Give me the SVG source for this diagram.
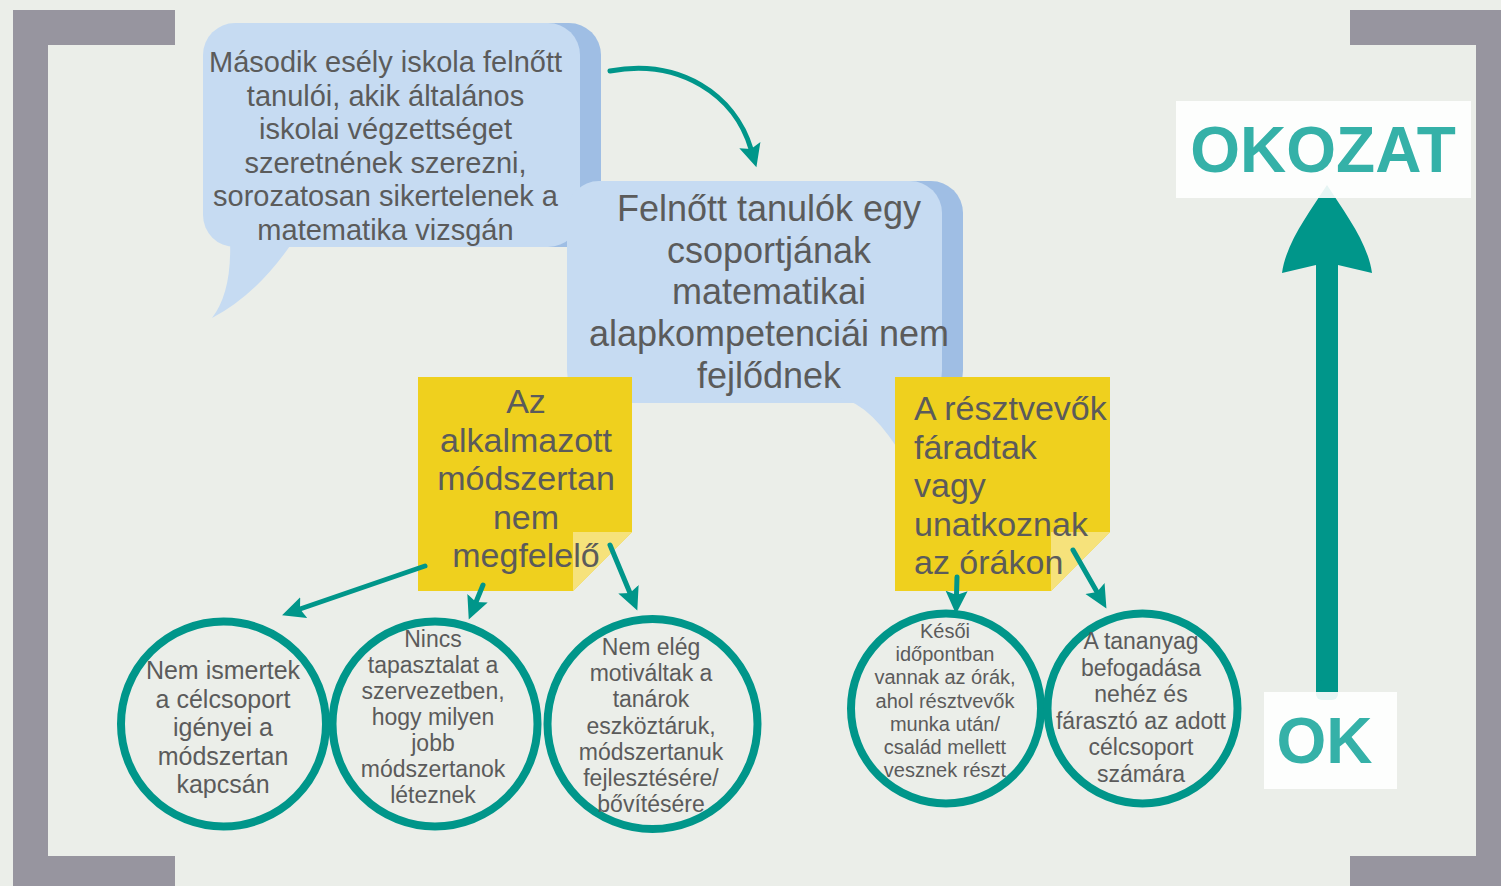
<svg xmlns="http://www.w3.org/2000/svg" width="1501" height="886" viewBox="0 0 1501 886">
<defs>
<style>
.t{font-family:"Liberation Sans",Arial,sans-serif;fill:#5b5b5b;text-anchor:middle}
.tl{font-family:"Liberation Sans",Arial,sans-serif;fill:#5b5b5b;text-anchor:start}
.big{font-family:"Liberation Sans",Arial,sans-serif;font-weight:bold;fill:#35b1a8;text-anchor:middle;font-size:64px}
.bub{fill:#c6dbf2}
.bsh{fill:#9fbee4}
.note{fill:#efd01e}
.fold{fill:#f6e27b}
.ring{fill:none;stroke:#00968a;stroke-width:8}
.con{fill:none;stroke:#00968a;stroke-width:5;stroke-linecap:round}
.brk{fill:#97959f}
</style>
<marker id="ah" markerUnits="userSpaceOnUse" markerWidth="24" markerHeight="24" viewBox="0 0 24 24" refX="4" refY="12" orient="auto">
<path d="M0,1 L23,12 L0,23 L4,12 Z" fill="#00968a"/>
</marker>
</defs>
<rect width="1501" height="886" fill="#ebeee9"/>
<g id="brackets">
<path class="brk" d="M13,10 H175 V45 H48 V856 H175 V886 H13 Z"/>
<path class="brk" d="M1350,10 H1501 V886 H1350 V856 H1476 V45 H1350 Z"/>
</g>
<g id="bubble1">
<rect class="bsh" x="224" y="23" width="377" height="224" rx="32"/>
<rect class="bub" x="203" y="23" width="377" height="224" rx="32"/>
<path class="bub" d="M230,240 Q232,292 212,318 Q258,294 294,240 Z"/>
<text class="t" font-size="29"><tspan x="385.5" y="72">Második esély iskola felnőtt</tspan><tspan x="385.5" y="105.6">tanulói, akik általános</tspan><tspan x="385.5" y="139.2">iskolai végzettséget</tspan><tspan x="385.5" y="172.8">szeretnének szerezni,</tspan><tspan x="385.5" y="206.4">sorozatosan sikertelenek a</tspan><tspan x="385.5" y="240">matematika vizsgán</tspan></text>
</g>
<g id="bubble2">
<rect class="bsh" x="588" y="181" width="375" height="222" rx="32"/>
<rect class="bub" x="567" y="181" width="375" height="222" rx="32"/>
<path class="bub" d="M840,398 Q872,404 906,462 L906,398 Z"/>
<text class="t" font-size="36"><tspan x="769" y="221">Felnőtt tanulók egy</tspan><tspan x="769" y="262.5">csoportjának</tspan><tspan x="769" y="304">matematikai</tspan><tspan x="769" y="346">alapkompetenciái nem</tspan><tspan x="769" y="388">fejlődnek</tspan></text>
</g>
<g id="note1">
<path class="note" d="M418,377 H632 V532 L573,591 H418 Z"/>
<path class="fold" d="M573,532 H632 L573,591 Z"/>
<text class="t" font-size="34"><tspan x="526" y="413">Az</tspan><tspan x="526" y="451.5">alkalmazott</tspan><tspan x="526" y="490">módszertan</tspan><tspan x="526" y="528.5">nem</tspan><tspan x="526" y="567">megfelelő</tspan></text>
</g>
<g id="note2">
<path class="note" d="M895,377 H1110 V532 L1051,591 H895 Z"/>
<path class="fold" d="M1051,532 H1110 L1051,591 Z"/>
<text class="tl" font-size="34"><tspan x="914" y="420">A résztvevők</tspan><tspan x="914" y="458.5">fáradtak</tspan><tspan x="914" y="497">vagy</tspan><tspan x="914" y="535.5">unatkoznak</tspan><tspan x="914" y="574">az órákon</tspan></text>
</g>
<g id="circle1">
<circle class="ring" cx="223.5" cy="724" r="102.5"/>
<text class="t" font-size="25"><tspan x="223" y="679">Nem ismertek</tspan><tspan x="223" y="707.5">a célcsoport</tspan><tspan x="223" y="736">igényei a</tspan><tspan x="223" y="764.5">módszertan</tspan><tspan x="223" y="793">kapcsán</tspan></text>
</g>
<g id="circle2">
<circle class="ring" cx="435" cy="724" r="102.5"/>
<text class="t" font-size="23"><tspan x="433" y="647">Nincs</tspan><tspan x="433" y="673">tapasztalat a</tspan><tspan x="433" y="699">szervezetben,</tspan><tspan x="433" y="725">hogy milyen</tspan><tspan x="433" y="751">jobb</tspan><tspan x="433" y="777">módszertanok</tspan><tspan x="433" y="803">léteznek</tspan></text>
</g>
<g id="circle3">
<circle class="ring" cx="652.5" cy="724" r="105"/>
<text class="t" font-size="23"><tspan x="651" y="655">Nem elég</tspan><tspan x="651" y="681.2">motiváltak a</tspan><tspan x="651" y="707.4">tanárok</tspan><tspan x="651" y="733.6">eszköztáruk,</tspan><tspan x="651" y="759.8">módszertanuk</tspan><tspan x="651" y="786">fejlesztésére/</tspan><tspan x="651" y="812.2">bővítésére</tspan></text>
</g>
<g id="circle4">
<circle class="ring" cx="946" cy="708.5" r="95"/>
<text class="t" font-size="20"><tspan x="945" y="638">Késői</tspan><tspan x="945" y="661.2">időpontban</tspan><tspan x="945" y="684.4">vannak az órák,</tspan><tspan x="945" y="707.6">ahol résztvevők</tspan><tspan x="945" y="730.8">munka után/</tspan><tspan x="945" y="754">család mellett</tspan><tspan x="945" y="777.2">vesznek részt</tspan></text>
</g>
<g id="circle5">
<circle class="ring" cx="1142.5" cy="708.5" r="95"/>
<text class="t" font-size="23"><tspan x="1141" y="649">A tananyag</tspan><tspan x="1141" y="675.6">befogadása</tspan><tspan x="1141" y="702.2">nehéz és</tspan><tspan x="1141" y="728.8">fárasztó az adott</tspan><tspan x="1141" y="755.4">célcsoport</tspan><tspan x="1141" y="782">számára</tspan></text>
</g>
<g id="connectors">
<path class="con" d="M610,71 C680,58 735,95 751,149" marker-end="url(#ah)"/>
<path class="con" d="M425,566 L300,609" marker-end="url(#ah)"/>
<path class="con" d="M483,585 L476,602" marker-end="url(#ah)"/>
<path class="con" d="M610,545 L630,593" marker-end="url(#ah)"/>
<path class="con" d="M957,577 L956.5,595" marker-end="url(#ah)"/>
<path class="con" d="M1073,550 L1097,592" marker-end="url(#ah)"/>
</g>
<g id="axis">
<rect x="1316" y="262" width="22" height="430" fill="#00968a"/>
<rect x="1316" y="680" width="22" height="20" rx="6" fill="#00968a"/>
<path d="M1327,185 C1345,213 1368,243 1372,273 L1338,265 L1316,265 L1282,273 C1286,243 1309,213 1327,185 Z" fill="#00968a"/>
</g>
<g id="okozat">
<rect x="1176" y="101" width="295" height="97" fill="#ffffff" fill-opacity="0.9"/>
<text class="big" x="1323" y="172">OKOZAT</text>
</g>
<g id="ok">
<rect x="1264" y="692" width="133" height="97" fill="#ffffff" fill-opacity="0.9"/>
<text class="big" x="1324.5" y="763">OK</text>
</g>
</svg>
